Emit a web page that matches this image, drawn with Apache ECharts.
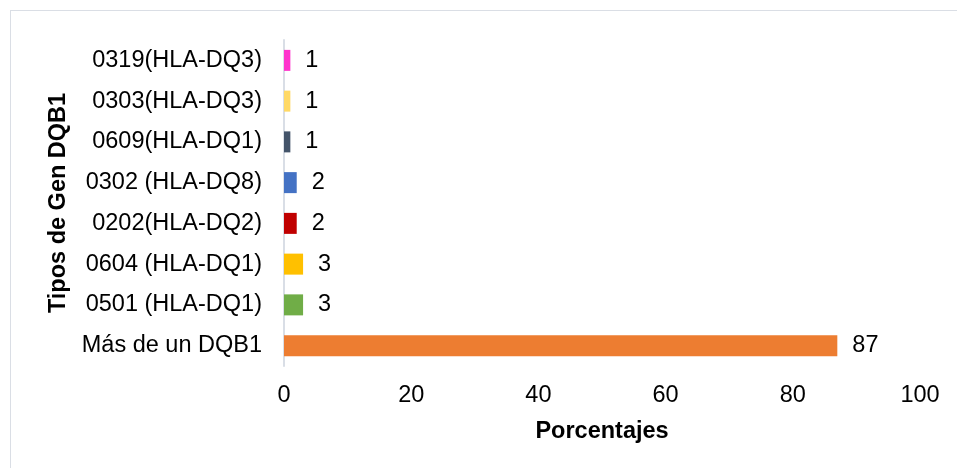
<!DOCTYPE html>
<html>
<head>
<meta charset="utf-8">
<script src="https://cdn.jsdelivr.net/npm/echarts@6/dist/echarts.min.js"></script>
<style>
  html, body { margin: 0; padding: 0; overflow: hidden; background: #fff; }
  #frame { position: absolute; left: 10px; top: 10px; width: 1200px; height: 800px; border: 1px solid #dadee5; pointer-events: none; }
  #chart { position: absolute; left: 0; top: 0; width: 957px; height: 468px; }
</style>
</head>
<body>
<div id="chart"></div>
<div id="frame"></div>
<script>
// categorías de abajo hacia arriba
var genes = [
  "Más de un DQB1",
  "0501 (HLA-DQ1)",
  "0604 (HLA-DQ1)",
  "0202(HLA-DQ2)",
  "0302 (HLA-DQ8)",
  "0609(HLA-DQ1)",
  "0303(HLA-DQ3)",
  "0319(HLA-DQ3)"
];
var porcentajes = [87, 3, 3, 2, 2, 1, 1, 1];
var colores = ["#ED7D31", "#70AD47", "#FFC000", "#C00000", "#4472C4", "#44546A", "#FFD966", "#FF33CC"];
var ticksX = [0, 20, 40, 60, 80, 100];

var font = "Liberation Sans, Arial, sans-serif";
var fs = 23.5;

var myChart = echarts.init(document.getElementById("chart"));
myChart.setOption({
  backgroundColor: "#fff",
  animation: false,
  grid: {
    left: 284,
    right: 37,
    top: 40,
    bottom: 102
  },
  xAxis: {
    type: "value",
    min: ticksX[0],
    max: ticksX[ticksX.length - 1],
    interval: 20,
    name: "Porcentajes",
    nameLocation: "middle",
    nameGap: 54,
    nameTextStyle: { fontFamily: font, fontSize: fs, fontWeight: "bold", color: "#000" },
    axisLine: { show: false },
    axisTick: { show: false },
    splitLine: { show: false },
    axisLabel: { fontFamily: font, fontSize: fs, color: "#000", margin: 18 }
  },
  yAxis: {
    type: "category",
    data: genes,
    name: "Tipos de Gen DQB1",
    nameLocation: "middle",
    nameGap: 204,
    nameTextStyle: { fontFamily: font, fontSize: fs, fontWeight: "bold", color: "#000" },
    axisLine: { show: true, lineStyle: { color: "#d9dee6", width: 2 } },
    axisTick: { show: false },
    axisLabel: { fontFamily: font, fontSize: fs, color: "#000", margin: 22 }
  },
  series: [{
    type: "bar",
    data: porcentajes.map(function (v, i) {
      return { value: v, itemStyle: { color: colores[i] } };
    }),
    barWidth: 21,
    label: {
      show: true,
      position: "right",
      distance: 15,
      fontFamily: font,
      fontSize: fs,
      color: "#000"
    }
  }]
});
</script>
</body>
</html>
